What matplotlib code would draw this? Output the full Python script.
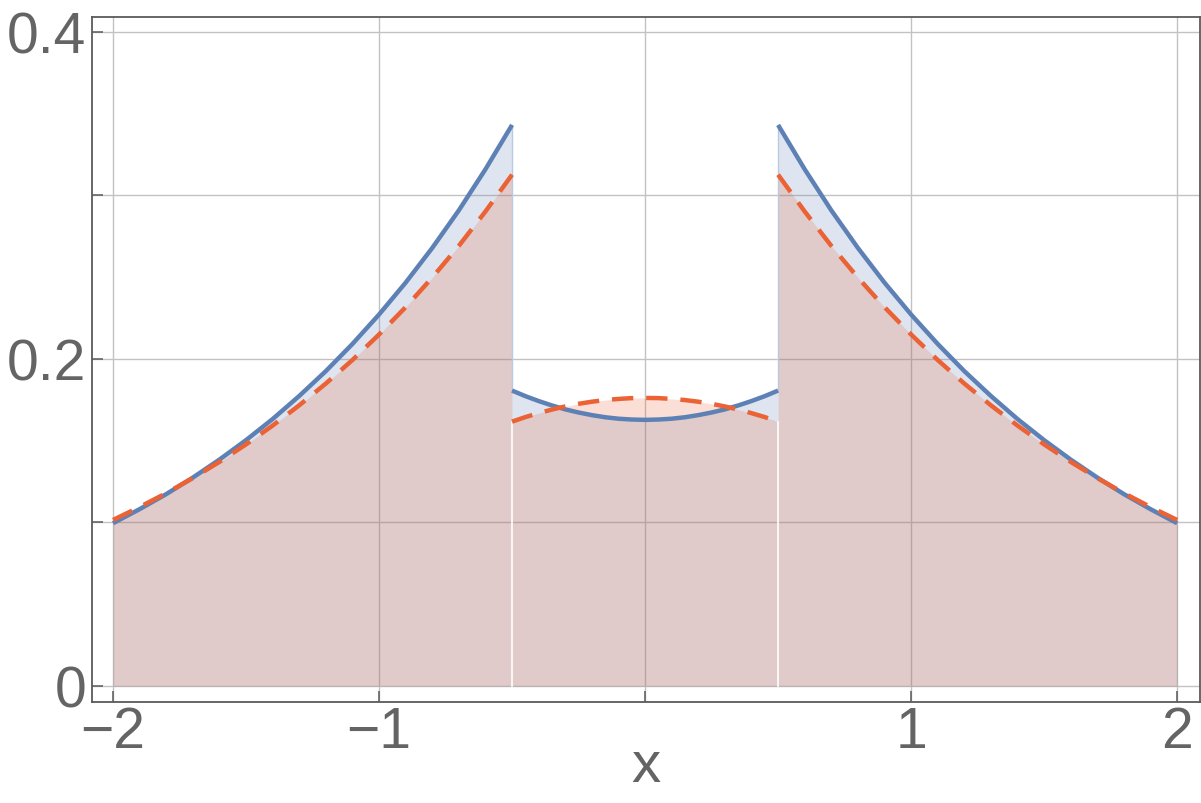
import matplotlib
matplotlib.use("Agg")
import matplotlib.pyplot as plt
import numpy as np

# ---- data ----
x_left = [-2.0, -1.9, -1.8, -1.7, -1.6, -1.5, -1.4, -1.3, -1.2, -1.1, -1.0,
          -0.9, -0.8, -0.7, -0.6, -0.5]
blue_left = [0.0995, 0.1081, 0.1173, 0.1274, 0.1384, 0.1503, 0.1632, 0.1773,
             0.1925, 0.2091, 0.2271, 0.2466, 0.2678, 0.2908, 0.3159, 0.3430]
red_left = [0.1015, 0.1094, 0.1179, 0.1271, 0.1370, 0.1477, 0.1592, 0.1716,
            0.1849, 0.1993, 0.2149, 0.2316, 0.2497, 0.2691, 0.2901, 0.3126]

x_mid = [-0.5, -0.45, -0.4, -0.35, -0.3, -0.25, -0.2, -0.15, -0.1, -0.05, 0.0,
         0.05, 0.1, 0.15, 0.2, 0.25, 0.3, 0.35, 0.4, 0.45, 0.5]
blue_mid = [0.1806, 0.1772, 0.1742, 0.1715, 0.1691, 0.1672, 0.1656, 0.1643,
            0.1634, 0.1629, 0.1627, 0.1629, 0.1634, 0.1643, 0.1656, 0.1672,
            0.1691, 0.1715, 0.1742, 0.1772, 0.1806]
red_mid = [0.1616, 0.1644, 0.1668, 0.1690, 0.1709, 0.1725, 0.1738, 0.1748,
           0.1755, 0.1760, 0.1761, 0.1760, 0.1755, 0.1748, 0.1738, 0.1725,
           0.1709, 0.1690, 0.1668, 0.1644, 0.1616]

# right branch mirrors the left one
x_right = [-v for v in x_left[::-1]]
blue_right = blue_left[::-1]
red_right = red_left[::-1]

x_ticks = [-2, -1, 0, 1, 2]
x_ticklabels = ["\u22122", "\u22121", "", "1", "2"]
y_ticks = [0, 0.1, 0.2, 0.3, 0.4]
y_ticklabels = ["0", "", "0.2", "", "0.4"]

BLUE = "#5E81B5"
RED = "#EB6235"
TXT = "#646464"

plt.rcParams['font.family'] = ['Liberation Sans', 'DejaVu Sans']

fig = plt.figure(figsize=(12.01, 8.04), dpi=100)
ax = fig.add_axes([92 / 1201, 1 - 703 / 804, (1200 - 92) / 1201, (703 - 18) / 804])

segments = [(x_left, blue_left, red_left),
            (x_mid, blue_mid, red_mid),
            (x_right, blue_right, red_right)]

for xs, bs, rs in segments:
    ax.fill_between(xs, 0, bs, color=BLUE, alpha=0.2, lw=0, zorder=1)
    ax.fill_between(xs, 0, rs, color=RED, alpha=0.2, lw=0, zorder=1)

# side edges of fills at the jumps
for xj in (-0.5, 0.5):
    ax.plot([xj, xj], [blue_mid[0], blue_left[-1]], color="#b9c9e2", lw=1.0, zorder=2)
    ax.plot([xj, xj], [0, red_mid[0]], color="white", lw=1.2, zorder=2)

for xs, bs, rs in segments:
    ax.plot(xs, bs, color=BLUE, lw=3.2, solid_capstyle='butt', zorder=3)
    ax.plot(xs, rs, color=RED, lw=3.2, linestyle=(0, (4.8, 2.9)),
            dash_capstyle='butt', zorder=4)

ax.set_xlim(-2.079, 2.086)
ax.set_ylim(-0.0098, 0.409)

ax.set_xticks(x_ticks)
ax.set_xticklabels(x_ticklabels)
ax.set_yticks(y_ticks)
ax.set_yticklabels(y_ticklabels)
ax.grid(True, color="#c2c2c2", lw=1.0, zorder=0)
ax.set_axisbelow(True)

for s in ax.spines.values():
    s.set_color("#5a5a5a")
    s.set_linewidth(1.3)

ax.tick_params(direction='in', length=8, width=1.1, color="#5a5a5a",
               labelsize=41, labelcolor=TXT, pad=6)
ax.tick_params(axis='y', pad=4)
ax.tick_params(axis='x', pad=2)
ax.set_xlabel("x", fontsize=42, color=TXT, labelpad=-14)

fig.savefig("out.png", dpi=100)
